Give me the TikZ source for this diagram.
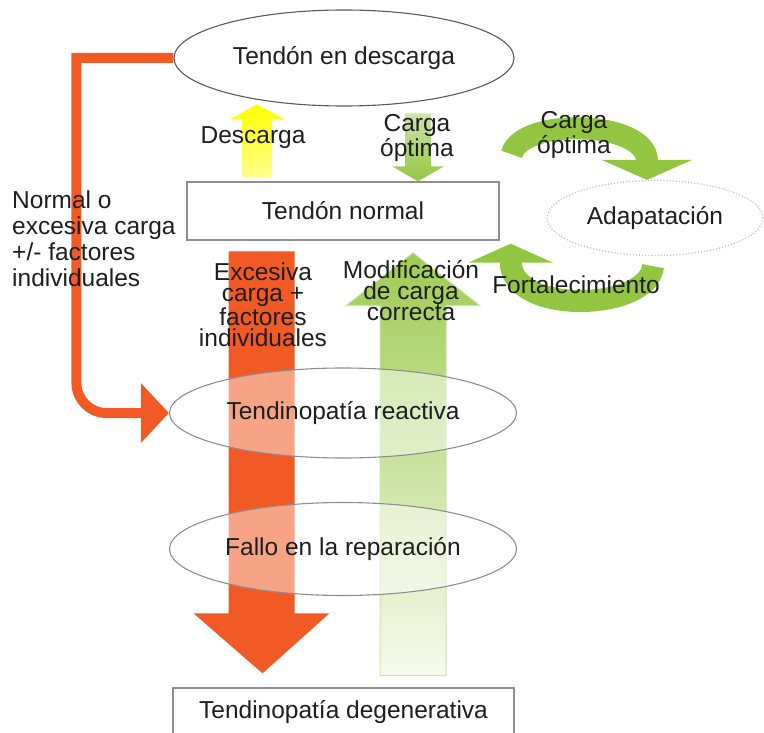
\documentclass[tikz,border=0pt]{standalone}
\usepackage{fontspec}
\setmainfont{Liberation Sans}
\usetikzlibrary{arrows.meta,calc,backgrounds,shapes.geometric}
\definecolor{tendonorange}{HTML}{F15A24}
\definecolor{tendongreen}{HTML}{93C640}
\definecolor{tendonlight}{HTML}{B9D98A}
\definecolor{tendonpale}{HTML}{F7FAEC}
\definecolor{tendonyellow}{HTML}{FFFF00}
\definecolor{tendongray}{HTML}{8E8E8E}
\definecolor{tendondark}{HTML}{5A5A5A}
\definecolor{tendontext}{HTML}{1E1E1E}
\tikzset{
  txt/.style={font=\fontsize{24.5}{21}\selectfont,text=tendontext,inner sep=0pt,align=center},
  state/.style={ellipse,draw=tendongray,line width=1.1pt,fill=white,fill opacity=0.45,
    text opacity=1,txt},
  stage box/.style={rectangle,draw=tendongray,line width=1.4pt,fill=white,txt},
  orange link/.style={draw=tendonorange,line width=10pt},
  loop arrow/.style={draw=tendongreen,line width=22pt}
}

\begin{document}
\begin{tikzpicture}[x=1pt,y=-1pt]
  \useasboundingbox (0,0) rectangle (764,733);
  % states
  \node[state,draw=tendondark,fill opacity=1,minimum width=340pt,minimum height=96pt]
    (descarga) at (344,58) {Tendón en descarga};
  \node[stage box,minimum width=312pt,minimum height=58pt] (normal) at (343,211) {Tendón normal};
  \node[state,draw=tendongray!55,dotted,line width=1.3pt,minimum width=216pt,minimum height=75pt]
    (adapt) at (655,218) {Adapatación};
  \node[state,minimum width=347pt,minimum height=90pt] (reactiva) at (343,413) {Tendinopatía reactiva};
  \node[state,minimum width=347pt,minimum height=93pt] (fallo) at (343,549) {Fallo en la reparación};
  \node[stage box,minimum width=341pt,minimum height=48pt] (degen) at (343.5,712) {Tendinopatía degenerativa};
  % labels
  \node[txt] (descargalbl) at (253,138) {Descarga};
  \node[txt] (optimalbl) at (417,138) {Carga\\óptima};
  \node[txt] (adaptlbl) at (574,135) {Carga\\óptima};
  \node[txt] (fortlbl) at (576,285) {Fortalecimiento};
  \node[txt] (modlbl) at (411,291) {Modificación\\de carga\\correcta};
  \node[txt] (excesolbl) at (263,305) {Excesiva\\carga +\\factores\\individuales};
  \node[txt,align=left,anchor=west,font=\fontsize{24.5}{26}\selectfont] (normallbl) at (12,239)
    {Normal o\\excesiva carga\\+/- factores\\individuales};
  \begin{pgfonlayer}{background}
    % descarga
    \shade[top color=tendonyellow,bottom color=tendonyellow!45!white]
      ($(normal.north)+(-101,-4)$) -- ++(0,-58) -- ++(-12,0) -- ++(27,-15)
      -- ++(28,15) -- ++(-13,0) -- ++(0,58) -- cycle;
    % carga optima
    \shade[top color=tendonlight!70!white,bottom color=tendongreen]
      ($(normal.north)+(75,0)$) -- ++(-26,-15) -- ++(13,0) -- ++(0,-53)
      -- ++(26,0) -- ++(0,53) -- ++(13,0) -- cycle;
    % modificacion de carga
    \shade[top color=tendongreen!90!white,bottom color=tendonpale,draw=tendonlight!70!white,line width=1pt]
      ($(normal.south)+(70,12)$) -- ++(67,53) -- ++(-34,0) -- ++(0,370)
      -- ++(-66,0) -- ++(0,-370) -- ++(-34,0) -- cycle;
    % excesiva carga
    \fill[tendonorange] ($(degen.north)+(-81,-14)$) -- ++(-69,-60) -- ++(35,0) -- ++(0,-362)
      -- ++(66,0) -- ++(0,362) -- ++(35,0) -- cycle;
    % normal o excesiva carga
    \draw[orange link,-{Triangle[width=58pt,length=28pt]}]
      (descarga.west) -- ++(-97,0) [rounded corners=30pt] |- (reactiva.west);
    % adaptation loop
    \draw[loop arrow,-{Triangle[width=90pt,length=20pt]}]
      ($(normal.north east)+(12,-27)$) .. controls +(9,-37) and +(0,-60) .. ($(adapt.north)+(-8,0)$);
    \draw[loop arrow,-{Triangle[width=84pt,length=19pt]}]
      ($(adapt.south)+(-2,10)$) .. controls +(-4,45) and +(0,72) .. ($(normal.south east)+(11,3)$);
  \end{pgfonlayer}
\end{tikzpicture}
\end{document}
